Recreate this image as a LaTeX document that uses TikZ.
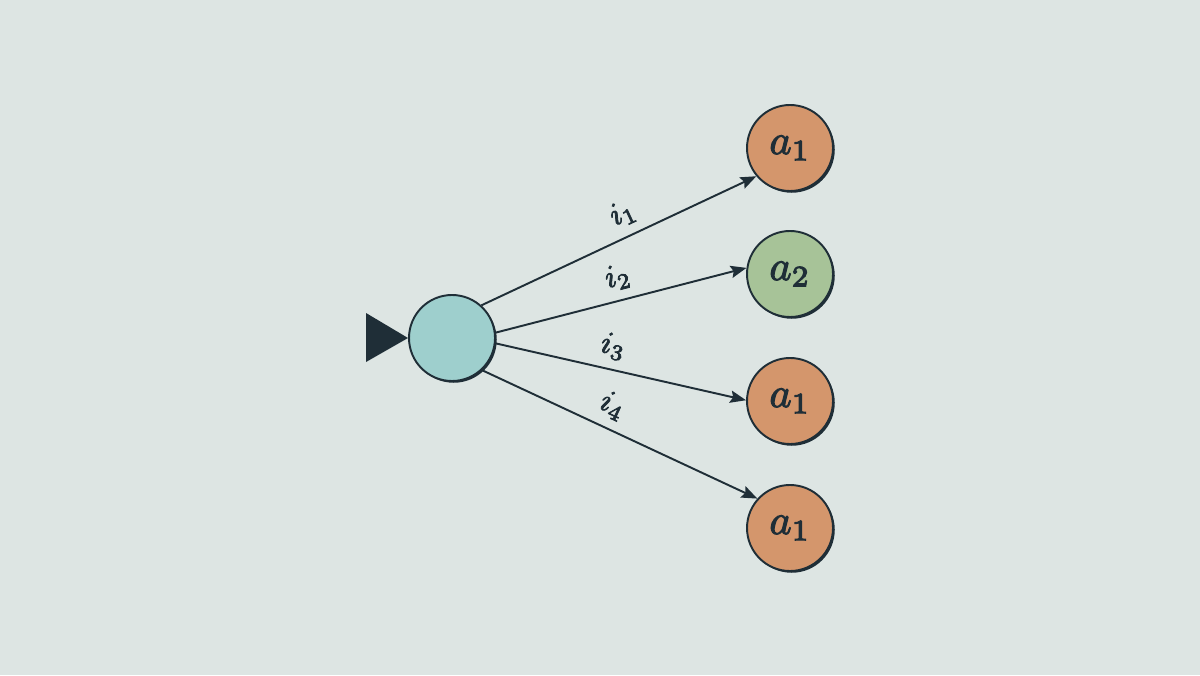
\documentclass[tikz,border=0pt]{standalone}
\usepackage{amsmath,amssymb}
\usepackage{tikz}
\usetikzlibrary{arrows.meta}

\definecolor{bgcol}{HTML}{DDE5E3}
\definecolor{ink}{HTML}{1F2E37}
\definecolor{rootcol}{HTML}{9ECFCD}
\definecolor{orangecol}{HTML}{D4966C}
\definecolor{greencol}{HTML}{A7C398}

% slightly heavier glyphs: fill and stroke the text
\newcommand{\heavy}[1]{\special{pdf:literal direct 2 Tr 0.25 w}#1\special{pdf:literal direct 0 Tr}}
\newcommand{\actlab}[1]{\scalebox{2.4}{\heavy{$#1$}}}
\newcommand{\edgelab}[1]{\scalebox{1.8}{\heavy{$#1$}}}

\begin{document}
\begin{tikzpicture}
        \tikzstyle{state}=[circle, draw=ink, line width=1.1pt, inner sep=0pt, minimum size=1.72cm,
            text=ink, preaction={fill=ink, transform canvas={shift={(0.035,-0.035)}}}]
        \tikzstyle{move}=[-{Stealth[length=9pt,width=7pt,inset=1.5pt]}, line width=1.1pt, draw=ink]
        \tikzstyle{lab}=[sloped, above=2pt, text=ink]

        \fill[bgcol] (0,0) rectangle (24,13.5);

        \node[state, fill=rootcol]   (r)  at (9.04,6.74) {};
        \node[state, fill=orangecol] (l1) at (15.8,10.54) {\actlab{a_1}};
        \node[state, fill=greencol]  (l2) at (15.8,8.02) {\actlab{a_2}};
        \node[state, fill=orangecol] (l3) at (15.8,5.48) {\actlab{a_1}};
        \node[state, fill=orangecol] (l4) at (15.8,2.94) {\actlab{a_1}};

        \fill[ink] (7.32,7.24) -- (8.16,6.74) -- (7.32,6.26) -- cycle;

        \draw[move] (r.48)  -- node[lab, pos=0.55] {\edgelab{i_1}} (l1.220);
        \draw[move] (r.7)   -- node[lab, pos=0.51] {\edgelab{i_2}} (l2.172);
        \draw[move] (r.-7)  -- node[lab, pos=0.45] {\edgelab{i_3}} (l3.179);
        \draw[move] (r.-47) -- node[lab, pos=0.44] {\edgelab{i_4}} (l4.138);
\end{tikzpicture}
\end{document}
